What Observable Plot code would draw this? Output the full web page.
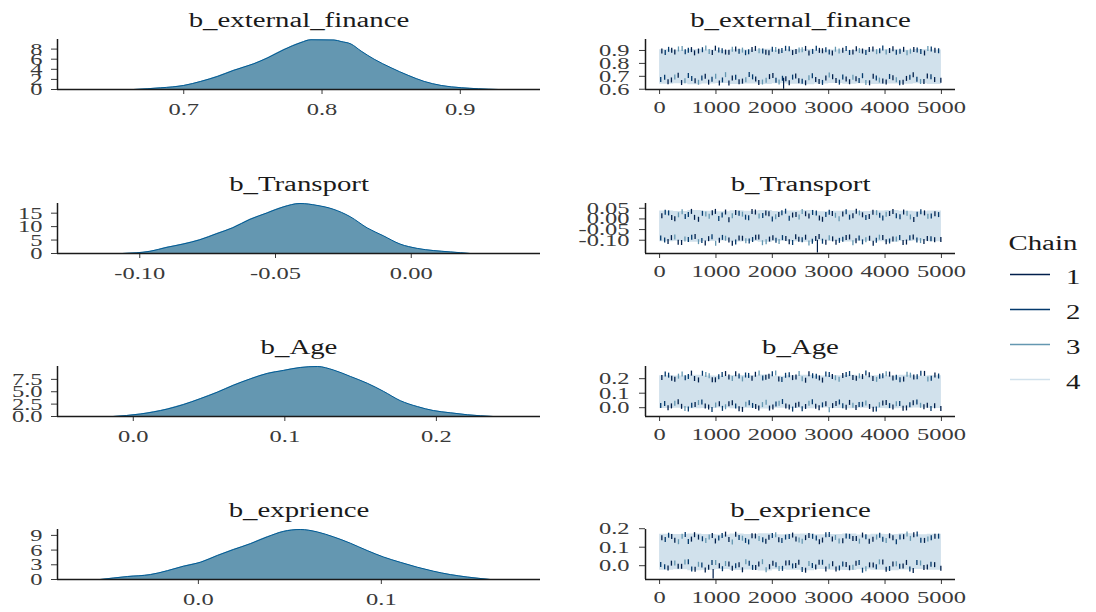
<!DOCTYPE html>
<html><head><meta charset="utf-8">
<script src="https://cdn.jsdelivr.net/npm/d3@7"></script>
<script src="https://cdn.jsdelivr.net/npm/@observablehq/plot@0.6"></script>
<style>
body{margin:0;background:#fff;}
#chart{position:relative;width:1096px;height:612px;overflow:hidden;background:#fff;}
#chart svg{position:absolute;max-width:none;overflow:visible;}
#chart svg, #chart svg text{font-family:"Liberation Serif","Times New Roman",Times,"DejaVu Serif",serif !important;}
</style></head><body><div id="chart"></div><script>
// ---------- data ----------
const paramNames = ["b_external_finance", "b_Transport", "b_Age", "b_exprience"];
const chains = ["1", "2", "3", "4"];
const chainColors = ["#011f4b", "#03396c", "#6497b1", "#d1e1ec"];

// posterior densities (value, density)
const densX_external_finance = [0.6638,0.6833,0.700,0.7123,0.7246,0.7362,0.7507,0.7609,0.7725,0.7848,0.792,0.8087,0.8138,0.821,0.8283,0.8377,0.85,0.8623,0.8739,0.8862,0.9007,0.913,0.9275];
const densY_external_finance = [0,0.33,0.8,1.6,2.6,3.8,5.1,6.3,7.9,9.3,9.85,9.8,9.5,9.0,7.6,6.0,4.3,2.8,1.6,0.8,0.35,0.15,0];
const densX_Transport = [-0.1063,-0.0963,-0.0900,-0.0841,-0.0779,-0.0716,-0.0657,-0.0594,-0.0531,-0.0472,-0.0410,-0.0347,-0.0288,-0.0225,-0.0162,-0.0103,-0.0041,0.0022,0.0081,0.0144,0.0218];
const densY_Transport = [0,0.8,2.3,3.5,5.1,7.4,9.6,12.7,15.1,17.3,18.6,17.9,16.5,13.7,9.5,6.6,3.5,1.9,1.1,0.6,0];
const densX_Age = [-0.0132,0.0046,0.0224,0.0330,0.0442,0.0554,0.0660,0.0772,0.0884,0.0990,0.1102,0.1215,0.1320,0.1432,0.1545,0.1650,0.1762,0.1875,0.1980,0.2092,0.2205,0.2376];
const densY_Age = [0,0.5,1.5,2.4,3.6,4.9,6.3,7.6,8.7,9.3,9.9,10.1,9.4,8.1,6.7,5.1,3.2,2.0,1.2,0.75,0.35,0];
const densX_exprience = [-0.0536,-0.0388,-0.0262,-0.0169,-0.0082,0.0011,0.0104,0.0191,0.0284,0.0377,0.0464,0.0557,0.0650,0.0738,0.0831,0.0923,0.1011,0.1104,0.1197,0.1284,0.1377,0.1470,0.1596];
const densY_exprience = [0,0.6,1.0,1.8,2.7,3.5,4.9,6.1,7.3,8.7,9.8,10.2,9.7,8.7,7.4,5.9,4.6,3.5,2.5,1.7,1.0,0.5,0];

// tick labels
const densXTicks_external_finance = [0.7, 0.8, 0.9];
const densYTicks_external_finance = [0, 2, 4, 6, 8];
const densXTicks_Transport = [-0.10, -0.05, 0.00];
const densYTicks_Transport = [0, 5, 10, 15];
const densXTicks_Age = [0.0, 0.1, 0.2];
const densYTicks_Age = [0.0, 2.5, 5.0, 7.5];
const densXTicks_exprience = [0.0, 0.1];
const densYTicks_exprience = [0, 3, 6, 9];
const traceXTicks = [0, 1000, 2000, 3000, 4000, 5000];
const traceYTicks_external_finance = [0.6, 0.7, 0.8, 0.9];
const traceYTicks_Transport = [-0.10, -0.05, 0.00, 0.05];
const traceYTicks_Age = [0.0, 0.1, 0.2];
const traceYTicks_exprience = [0.0, 0.1, 0.2];

// trace: chain 4 envelope per block of iterations
const bandIter = [0,250,500,750,1000,1250,1500,1750,2000,2250,2500,2750,3000,3250,3500,3750,4000,4250,4500,4750,5000];
const bandHi_external_finance = [0.905,0.902,0.908,0.904,0.900,0.906,0.903,0.909,0.901,0.905,0.907,0.902,0.904,0.900,0.906,0.903,0.905,0.901,0.907,0.904,0.904];
const bandLo_external_finance = [0.638,0.642,0.635,0.640,0.644,0.637,0.641,0.636,0.643,0.639,0.634,0.640,0.645,0.638,0.642,0.636,0.641,0.639,0.643,0.637,0.637];
const bandHi_Transport = [0.037,0.035,0.039,0.036,0.034,0.038,0.036,0.040,0.035,0.037,0.039,0.034,0.036,0.038,0.035,0.037,0.039,0.036,0.034,0.037,0.037];
const bandLo_Transport = [-0.107,-0.105,-0.109,-0.106,-0.104,-0.108,-0.106,-0.110,-0.105,-0.107,-0.109,-0.104,-0.106,-0.108,-0.105,-0.107,-0.109,-0.106,-0.104,-0.107,-0.107];
const bandHi_Age = [0.220,0.218,0.223,0.219,0.216,0.222,0.220,0.225,0.217,0.221,0.224,0.218,0.220,0.223,0.216,0.221,0.219,0.224,0.217,0.220,0.220];
const bandLo_Age = [-0.006,-0.003,-0.008,-0.005,-0.002,-0.007,-0.004,-0.009,-0.003,-0.006,-0.008,-0.002,-0.005,-0.007,-0.003,-0.006,-0.008,-0.004,-0.002,-0.006,-0.006];
const bandHi_exprience = [0.170,0.168,0.172,0.169,0.166,0.171,0.169,0.173,0.167,0.170,0.172,0.167,0.169,0.171,0.166,0.170,0.168,0.173,0.167,0.170,0.170];
const bandLo_exprience = [-0.025,-0.022,-0.027,-0.024,-0.021,-0.026,-0.023,-0.028,-0.022,-0.025,-0.027,-0.021,-0.024,-0.026,-0.022,-0.025,-0.027,-0.023,-0.021,-0.025,-0.025];

// trace: visible excursions of chains 1-3 near the upper and lower edges
const topIter = [40,100,160,215,270,335,400,455,510,565,620,690,760,820,880,935,990,1050,1110,1170,1230,1290,1350,1410,1470,1525,1580,1640,1700,1765,1830,1885,1940,2000,2060,2115,2170,2235,2300,2360,2420,2475,2530,2590,2650,2715,2780,2835,2890,2950,3010,3065,3120,3185,3250,3310,3370,3430,3490,3545,3600,3660,3720,3785,3850,3905,3960,4020,4080,4140,4200,4265,4330,4390,4450,4510,4570,4635,4700,4760,4820,4885,4950];
const topChain = [1,2,2,1,1,3,3,2,2,1,1,1,2,3,3,1,1,2,2,1,1,3,1,2,3,2,2,1,1,3,2,1,1,2,3,1,2,2,2,1,1,3,3,1,1,2,2,1,1,2,2,1,3,3,1,2,2,1,1,3,1,2,1,1,3,2,2,3,1,1,2,2,1,3,3,1,2,2,1,3,2,1,2];
const botIter = [20,90,150,210,270,330,390,450,510,570,630,690,750,810,870,930,995,1060,1115,1170,1230,1290,1350,1410,1470,1530,1590,1650,1705,1760,1825,1890,1950,2010,2065,2120,2180,2240,2300,2360,2415,2470,2530,2590,2650,2710,2770,2830,2890,2950,3010,3070,3130,3190,3250,3310,3370,3430,3485,3540,3600,3660,3725,3790,3845,3900,3960,4020,4080,4140,4200,4260,4320,4380,4440,4500,4565,4630,4690,4750,4815,4880,4990];
const botChain = [2,2,1,1,3,1,1,3,2,2,1,3,2,1,1,2,3,1,2,3,1,1,2,1,1,3,2,2,1,1,3,3,1,1,2,3,2,1,1,2,1,1,2,1,3,2,1,1,2,1,3,1,1,2,2,1,1,3,1,2,2,3,1,1,2,3,1,1,2,1,3,2,1,1,2,1,2,3,1,1,2,1,1];
const topVal_external_finance = [0.893,0.880,0.905,0.897,0.884,0.908,0.911,0.886,0.897,0.903,0.878,0.892,0.902,0.915,0.889,0.881,0.914,0.899,0.895,0.884,0.882,0.906,0.907,0.890,0.899,0.879,0.886,0.904,0.912,0.895,0.893,0.883,0.879,0.906,0.904,0.891,0.896,0.913,0.909,0.880,0.888,0.899,0.901,0.912,0.876,0.889,0.913,0.897,0.894,0.902,0.885,0.877,0.906,0.893,0.898,0.911,0.881,0.885,0.910,0.896,0.892,0.881,0.903,0.908,0.887,0.895,0.915,0.884,0.896,0.909,0.883,0.890,0.905,0.879,0.891,0.903,0.900,0.888,0.877,0.911,0.908,0.898,0.894];
const botVal_external_finance = [0.672,0.689,0.655,0.668,0.691,0.705,0.648,0.661,0.703,0.679,0.662,0.650,0.684,0.697,0.651,0.673,0.697,0.644,0.668,0.709,0.645,0.683,0.688,0.655,0.659,0.670,0.711,0.692,0.676,0.648,0.652,0.666,0.694,0.702,0.665,0.653,0.681,0.677,0.647,0.690,0.699,0.661,0.658,0.646,0.686,0.700,0.671,0.657,0.649,0.684,0.706,0.693,0.663,0.651,0.690,0.675,0.654,0.688,0.678,0.664,0.701,0.649,0.646,0.696,0.683,0.667,0.660,0.652,0.695,0.686,0.669,0.647,0.650,0.680,0.689,0.708,0.674,0.656,0.657,0.698,0.692,0.671,0.666];
const topVal_Transport = [0.012,0.029,0.026,0.004,-0.002,0.017,0.031,0.009,0.018,0.033,0.005,-0.004,0.024,0.021,0.010,0.027,0.033,0.000,0.016,0.030,-0.006,0.013,0.028,0.024,0.020,0.006,0.003,0.032,0.030,0.011,0.014,0.025,0.022,-0.003,0.008,0.019,0.027,0.034,0.001,0.016,0.019,0.007,0.032,0.022,0.011,0.028,0.025,0.002,-0.004,0.018,0.029,0.023,0.015,-0.001,0.021,0.031,0.006,0.012,0.034,0.026,0.017,0.004,0.009,0.029,0.027,0.015,0.002,0.020,0.023,0.033,0.013,0.008,0.030,0.024,0.007,-0.005,0.020,0.031,0.026,0.010,0.011,0.022,0.018];
const botVal_Transport = [-0.092,-0.101,-0.108,-0.090,-0.087,-0.112,-0.113,-0.096,-0.099,-0.088,-0.085,-0.109,-0.104,-0.115,-0.095,-0.086,-0.116,-0.102,-0.089,-0.093,-0.101,-0.117,-0.111,-0.092,-0.093,-0.105,-0.106,-0.099,-0.088,-0.087,-0.114,-0.110,-0.097,-0.091,-0.103,-0.108,-0.090,-0.094,-0.109,-0.113,-0.086,-0.098,-0.100,-0.088,-0.115,-0.107,-0.094,-0.085,-0.107,-0.112,-0.091,-0.096,-0.112,-0.103,-0.098,-0.089,-0.087,-0.114,-0.105,-0.092,-0.110,-0.100,-0.093,-0.116,-0.102,-0.088,-0.089,-0.110,-0.106,-0.097,-0.096,-0.090,-0.113,-0.111,-0.091,-0.087,-0.101,-0.104,-0.108,-0.094,-0.095,-0.100,-0.099];
const topVal_Age = [0.205,0.228,0.221,0.199,0.193,0.214,0.229,0.203,0.212,0.235,0.198,0.188,0.234,0.226,0.216,0.190,0.189,0.210,0.225,0.232,0.208,0.197,0.231,0.215,0.195,0.222,0.219,0.200,0.227,0.236,0.201,0.207,0.213,0.230,0.236,0.194,0.191,0.220,0.223,0.204,0.209,0.233,0.196,0.186,0.230,0.217,0.214,0.202,0.187,0.228,0.226,0.211,0.203,0.192,0.218,0.225,0.232,0.205,0.199,0.216,0.211,0.235,0.224,0.197,0.192,0.213,0.217,0.231,0.228,0.201,0.206,0.189,0.194,0.227,0.221,0.209,0.210,0.234,0.233,0.195,0.200,0.222,0.215];
const botVal_Age = [0.012,0.026,-0.004,0.009,0.027,0.038,0.006,-0.009,-0.012,0.014,0.019,0.032,0.035,0.008,0.001,-0.016,0.015,0.023,-0.008,0.003,0.024,0.030,0.009,-0.011,-0.015,0.021,0.031,0.012,0.004,-0.006,0.018,0.034,-0.006,0.002,0.022,0.027,0.039,0.008,0.002,-0.013,0.013,0.020,-0.010,0.005,0.028,0.037,0.007,-0.003,0.016,0.024,-0.017,0.011,0.025,0.036,0.010,-0.001,0.033,0.014,-0.002,0.019,0.020,0.029,0.005,-0.014,-0.013,0.017,0.029,0.033,0.011,0.001,0.023,0.026,-0.007,-0.005,0.017,0.031,0.036,0.013,0.003,0.014,-0.009,0.010,-0.009];
const topVal_exprience = [0.148,0.139,0.162,0.155,0.135,0.127,0.157,0.166,0.128,0.141,0.165,0.152,0.143,0.133,0.153,0.160,0.131,0.147,0.160,0.168,0.139,0.126,0.167,0.150,0.146,0.134,0.126,0.159,0.158,0.144,0.137,0.129,0.151,0.161,0.164,0.138,0.133,0.152,0.155,0.163,0.142,0.136,0.129,0.149,0.161,0.156,0.147,0.127,0.136,0.165,0.166,0.141,0.150,0.131,0.132,0.158,0.156,0.145,0.144,0.130,0.163,0.154,0.130,0.140,0.152,0.162,0.140,0.134,0.159,0.148,0.127,0.153,0.154,0.168,0.145,0.164,0.168,0.135,0.134,0.142,0.149,0.157,0.157];
const botVal_exprience = [0.004,-0.009,-0.015,0.011,0.012,-0.006,-0.006,0.017,0.018,-0.020,-0.022,0.005,0.001,-0.026,-0.011,0.014,0.015,-0.003,-0.019,0.009,0.007,-0.016,-0.003,0.002,-0.025,0.019,0.010,-0.012,-0.013,0.006,0.019,-0.024,-0.008,0.011,0.003,-0.018,-0.017,0.012,0.013,-0.004,-0.001,0.016,-0.023,-0.027,0.009,-0.002,-0.010,0.016,0.016,-0.021,-0.005,0.008,-0.020,-0.015,0.006,0.004,-0.014,-0.011,0.011,0.014,-0.027,-0.019,0.002,0.001,-0.009,0.018,0.017,-0.022,-0.018,0.007,0.008,-0.005,-0.004,0.015,-0.021,-0.028,0.014,0.012,-0.012,-0.010,0.005,0.003,-0.016];
// long single excursions (iteration, from, to)
const longIter_external_finance = [2200], longFrom_external_finance = [0.685], longTo_external_finance = [0.600];
const longIter_Transport = [2800], longFrom_Transport = [-0.100], longTo_Transport = [-0.160];
const longIter_Age = [], longFrom_Age = [], longTo_Age = [];
const longIter_exprience = [950], longFrom_exprience = [-0.020], longTo_exprience = [-0.072];

// ---------- assembly ----------
const panels = [
  {name: paramNames[0], dx: densX_external_finance, dy: densY_external_finance, xt: densXTicks_external_finance, yt: densYTicks_external_finance,
   xf: d => d.toFixed(1), yf: d => d.toFixed(0), xdom: [0.6087, 0.958], ytop: 9.9,
   ty: [0.598, 0.985], tyt: traceYTicks_external_finance, tyf: d => d.toFixed(1),
   bHi: bandHi_external_finance, bLo: bandLo_external_finance, tv: topVal_external_finance, bv: botVal_external_finance,
   li: longIter_external_finance, lf: longFrom_external_finance, lt: longTo_external_finance},
  {name: paramNames[1], dx: densX_Transport, dy: densY_Transport, xt: densXTicks_Transport, yt: densYTicks_Transport,
   xf: d => d.toFixed(2), yf: d => d.toFixed(0), xdom: [-0.1303, 0.0476], ytop: 18.6,
   ty: [-0.1623, 0.0724], tyt: traceYTicks_Transport, tyf: d => d.toFixed(2),
   bHi: bandHi_Transport, bLo: bandLo_Transport, tv: topVal_Transport, bv: botVal_Transport,
   li: longIter_Transport, lf: longFrom_Transport, lt: longTo_Transport},
  {name: paramNames[2], dx: densX_Age, dy: densY_Age, xt: densXTicks_Age, yt: densYTicks_Age,
   xf: d => d.toFixed(1), yf: d => d.toFixed(1), xdom: [-0.050, 0.2687], ytop: 10.1,
   ty: [-0.0607, 0.284], tyt: traceYTicks_Age, tyf: d => d.toFixed(1),
   bHi: bandHi_Age, bLo: bandLo_Age, tv: topVal_Age, bv: botVal_Age,
   li: longIter_Age, lf: longFrom_Age, lt: longTo_Age},
  {name: paramNames[3], dx: densX_exprience, dy: densY_exprience, xt: densXTicks_exprience, yt: densYTicks_exprience,
   xf: d => d.toFixed(1), yf: d => d.toFixed(0), xdom: [-0.077, 0.187], ytop: 10.2,
   ty: [-0.0746, 0.1957], tyt: traceYTicks_exprience, tyf: d => d.toFixed(1),
   bHi: bandHi_exprience, bLo: bandLo_exprience, tv: topVal_exprience, bv: botVal_exprience,
   li: longIter_exprience, lf: longFrom_exprience, lt: longTo_exprience}
];

const rowBaselines = [89, 253, 416, 579];
const FONT = '"Liberation Serif", "Times New Roman", Times, "DejaVu Serif", serif';
const STRETCH = 1.44;
const axisColor = "#1a1a1a";
const root = document.getElementById("chart");

function baseStyle() {
  return {fontFamily: FONT, fontSize: "17px", color: "#3a3a3a", background: "transparent", overflow: "visible"};
}

function place(svg, left, top) {
  svg.style.left = left + "px";
  svg.style.top = top + "px";
  root.appendChild(svg);
  svg.querySelectorAll("text").forEach(t => {
    const L = t.getComputedTextLength();
    if (L > 0) {
      t.setAttribute("textLength", (L * STRETCH).toFixed(2));
      t.setAttribute("lengthAdjust", "spacingAndGlyphs");
    }
  });
}

panels.forEach((p, r) => {
  const B = rowBaselines[r];
  const dens = p.dx.map((x, i) => ({x, y: p.dy[i]}));
  const dPlot = Plot.plot({
    width: 560, height: 125,
    marginLeft: 57, marginRight: 20, marginTop: 40, marginBottom: 35,
    x: {domain: p.xdom, ticks: p.xt, tickFormat: p.xf, tickSize: 5, tickPadding: 8, label: null},
    y: {domain: [0, p.ytop], ticks: p.yt, tickFormat: p.yf, tickSize: 6, tickPadding: 9, label: null},
    style: baseStyle(),
    marks: [
      Plot.areaY(dens, {x: "x", y: "y", fill: "#6497b1", curve: "monotone-x"}),
      Plot.lineY(dens, {x: "x", y: "y", stroke: "#005b96", strokeWidth: 1, curve: "monotone-x"}),
      Plot.ruleY([0], {stroke: axisColor, strokeWidth: 1.5}),
      Plot.ruleX([p.xdom[0]], {stroke: axisColor, strokeWidth: 1.5}),
      Plot.text([p.name], {frameAnchor: "top", dy: -27, text: d => d, fontSize: 20, fill: "#1a1a1a"})
    ]
  });
  place(dPlot, 0, B - 90);

  const band = bandIter.map((it, i) => ({it, lo: p.bLo[i], hi: p.bHi[i]}));
  const spikes = topIter.map((it, i) => ({it, v: p.tv[i], c: String(topChain[i])}))
    .concat(botIter.map((it, i) => ({it, v: p.bv[i], c: String(botChain[i])})));
  const longs = p.li.map((it, i) => ({it, a: p.lf[i], b: p.lt[i]}));
  const tPlot = Plot.plot({
    width: 420, height: 125,
    marginLeft: 85, marginRight: 25, marginTop: 40, marginBottom: 35,
    x: {domain: [-250, 5250], ticks: traceXTicks, tickFormat: d => String(d), tickSize: 5, tickPadding: 6, label: null},
    y: {domain: p.ty, ticks: p.tyt, tickFormat: p.tyf, tickSize: 6, tickPadding: 10, label: null},
    color: {domain: chains, range: chainColors},
    style: baseStyle(),
    marks: [
      Plot.areaY(band, {x: "it", y1: "lo", y2: "hi", curve: "step-after", fill: chainColors[3]}),
      Plot.ruleX(spikes, {x: "it", y1: "v", y2: "v", insetTop: -2.5, insetBottom: -2.5, stroke: "c", strokeWidth: 1.3}),
      Plot.ruleX(longs, {x: "it", y1: "a", y2: "b", stroke: chainColors[0], strokeWidth: 1.2}),
      Plot.ruleY([p.ty[0]], {stroke: axisColor, strokeWidth: 1.5}),
      Plot.ruleX([-250], {stroke: axisColor, strokeWidth: 1.5}),
      Plot.text([p.name], {frameAnchor: "top", dy: -27, text: d => d, fontSize: 20, fill: "#1a1a1a"})
    ]
  });
  place(tPlot, 560, B - 90);
});

// legend
const legend = Plot.plot({
  width: 136, height: 190,
  marginLeft: 50, marginRight: 46, marginTop: 0, marginBottom: 0,
  x: {domain: [0, 1], axis: null},
  y: {type: "point", domain: chains, range: [63, 169], padding: 0, axis: null},
  color: {domain: chains, range: chainColors},
  style: baseStyle(),
  marks: [
    Plot.ruleY(chains, {y: d => d, stroke: d => d, strokeWidth: 1.5}),
    Plot.text(chains, {y: d => d, text: d => d, frameAnchor: "right", dx: 30, dy: 3, fontSize: 20, fill: "#1a1a1a"}),
    Plot.text(["Chain"], {frameAnchor: "top-left", dx: -2, dy: 25, text: d => d, textAnchor: "start", fontSize: 20, fill: "#1a1a1a"})
  ]
});
place(legend, 960, 210);
</script></body></html>
